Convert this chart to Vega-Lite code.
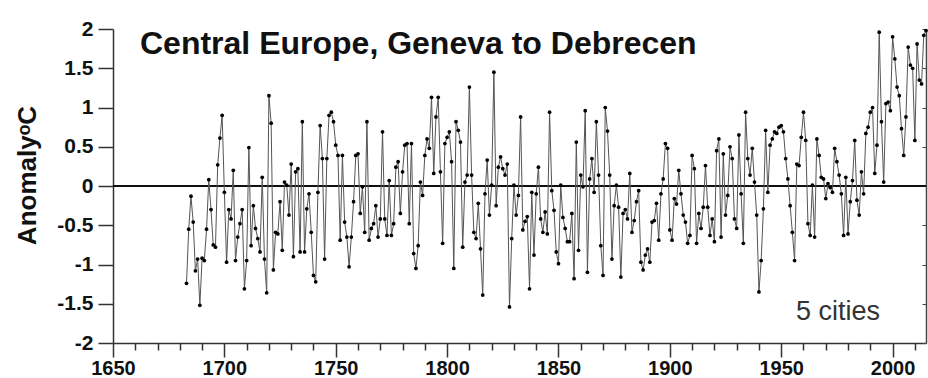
{
 "$schema": "https://vega.github.io/schema/vega-lite/v6.json",
 "width": 813,
 "height": 314,
 "autosize": "none",
 "padding": {"left": 113, "top": 29, "right": 2, "bottom": 35},
 "background": "white",
 "title": {"text": "Central Europe, Geneva to Debrecen", "anchor": "start", "frame": "group", "offset": 0, "dx": 27, "dy": 68, "baseline": "alphabetic", "font": "Liberation Sans", "fontSize": 32, "fontWeight": "bold", "color": "#111"},
 "config": {"view": {"stroke": null}, "axis": {"grid": false}},
 "data": {"values": [
  {"year":1683,"anomaly":-1.24},{"year":1684,"anomaly":-0.55},{"year":1685,"anomaly":-0.13},{"year":1686,"anomaly":-0.46},{"year":1687,"anomaly":-1.08},{"year":1688,"anomaly":-0.93},{"year":1689,"anomaly":-1.52},{"year":1690,"anomaly":-0.92},{"year":1691,"anomaly":-0.95},{"year":1692,"anomaly":-0.55},
  {"year":1693,"anomaly":0.08},{"year":1694,"anomaly":-0.30},{"year":1695,"anomaly":-0.75},{"year":1696,"anomaly":-0.78},{"year":1697,"anomaly":0.27},{"year":1698,"anomaly":0.61},{"year":1699,"anomaly":0.90},{"year":1700,"anomaly":-0.08},{"year":1701,"anomaly":-0.97},{"year":1702,"anomaly":-0.30},
  {"year":1703,"anomaly":-0.42},{"year":1704,"anomaly":0.20},{"year":1705,"anomaly":-0.95},{"year":1706,"anomaly":-0.65},{"year":1707,"anomaly":-0.48},{"year":1708,"anomaly":-0.30},{"year":1709,"anomaly":-1.31},{"year":1710,"anomaly":-0.95},{"year":1711,"anomaly":0.49},{"year":1712,"anomaly":-0.76},
  {"year":1713,"anomaly":-0.25},{"year":1714,"anomaly":-0.54},{"year":1715,"anomaly":-0.67},{"year":1716,"anomaly":-0.84},{"year":1717,"anomaly":0.11},{"year":1718,"anomaly":-0.93},{"year":1719,"anomaly":-1.36},{"year":1720,"anomaly":1.15},{"year":1721,"anomaly":0.80},{"year":1722,"anomaly":-1.07},
  {"year":1723,"anomaly":-0.59},{"year":1724,"anomaly":-0.61},{"year":1725,"anomaly":-0.20},{"year":1726,"anomaly":-0.82},{"year":1727,"anomaly":0.05},{"year":1728,"anomaly":0.01},{"year":1729,"anomaly":-0.37},{"year":1730,"anomaly":0.28},{"year":1731,"anomaly":-0.90},{"year":1732,"anomaly":0.18},
  {"year":1733,"anomaly":0.22},{"year":1734,"anomaly":-0.84},{"year":1735,"anomaly":0.82},{"year":1736,"anomaly":-0.84},{"year":1737,"anomaly":-0.29},{"year":1738,"anomaly":-0.10},{"year":1739,"anomaly":-0.59},{"year":1740,"anomaly":-1.14},{"year":1741,"anomaly":-1.22},{"year":1742,"anomaly":-0.08},
  {"year":1743,"anomaly":0.77},{"year":1744,"anomaly":0.35},{"year":1745,"anomaly":-0.93},{"year":1746,"anomaly":0.35},{"year":1747,"anomaly":0.90},{"year":1748,"anomaly":0.94},{"year":1749,"anomaly":0.82},{"year":1750,"anomaly":0.52},{"year":1751,"anomaly":0.39},{"year":1752,"anomaly":-0.69},
  {"year":1753,"anomaly":0.39},{"year":1754,"anomaly":-0.46},{"year":1755,"anomaly":-0.65},{"year":1756,"anomaly":-1.03},{"year":1757,"anomaly":-0.65},{"year":1758,"anomaly":-0.20},{"year":1759,"anomaly":0.39},{"year":1760,"anomaly":0.41},{"year":1761,"anomaly":-0.35},{"year":1762,"anomaly":-0.01},
  {"year":1763,"anomaly":-0.59},{"year":1764,"anomaly":0.82},{"year":1765,"anomaly":-0.69},{"year":1766,"anomaly":-0.54},{"year":1767,"anomaly":-0.48},{"year":1768,"anomaly":-0.25},{"year":1769,"anomaly":-0.65},{"year":1770,"anomaly":-0.42},{"year":1771,"anomaly":0.69},{"year":1772,"anomaly":-0.42},
  {"year":1773,"anomaly":-0.63},{"year":1774,"anomaly":0.07},{"year":1775,"anomaly":-0.63},{"year":1776,"anomaly":-0.48},{"year":1777,"anomaly":0.24},{"year":1778,"anomaly":0.31},{"year":1779,"anomaly":-0.35},{"year":1780,"anomaly":0.18},{"year":1781,"anomaly":0.52},{"year":1782,"anomaly":0.54},
  {"year":1783,"anomaly":-0.48},{"year":1784,"anomaly":0.54},{"year":1785,"anomaly":-0.86},{"year":1786,"anomaly":-1.05},{"year":1787,"anomaly":-0.76},{"year":1788,"anomaly":0.05},{"year":1789,"anomaly":-0.12},{"year":1790,"anomaly":0.39},{"year":1791,"anomaly":0.60},{"year":1792,"anomaly":0.48},
  {"year":1793,"anomaly":1.13},{"year":1794,"anomaly":0.16},{"year":1795,"anomaly":0.88},{"year":1796,"anomaly":1.13},{"year":1797,"anomaly":0.18},{"year":1798,"anomaly":-0.73},{"year":1799,"anomaly":0.54},{"year":1800,"anomaly":0.62},{"year":1801,"anomaly":0.69},{"year":1802,"anomaly":0.31},
  {"year":1803,"anomaly":-1.05},{"year":1804,"anomaly":0.82},{"year":1805,"anomaly":0.71},{"year":1806,"anomaly":0.56},{"year":1807,"anomaly":-0.78},{"year":1808,"anomaly":0.05},{"year":1809,"anomaly":0.14},{"year":1810,"anomaly":1.26},{"year":1811,"anomaly":0.14},{"year":1812,"anomaly":-0.59},
  {"year":1813,"anomaly":-0.67},{"year":1814,"anomaly":-0.22},{"year":1815,"anomaly":-0.80},{"year":1816,"anomaly":-1.39},{"year":1817,"anomaly":-0.10},{"year":1818,"anomaly":0.33},{"year":1819,"anomaly":-0.37},{"year":1820,"anomaly":0.01},{"year":1821,"anomaly":1.45},{"year":1822,"anomaly":-0.25},
  {"year":1823,"anomaly":0.24},{"year":1824,"anomaly":0.37},{"year":1825,"anomaly":0.22},{"year":1826,"anomaly":0.14},{"year":1827,"anomaly":0.28},{"year":1828,"anomaly":-1.54},{"year":1829,"anomaly":-0.67},{"year":1830,"anomaly":0.01},{"year":1831,"anomaly":-0.37},{"year":1832,"anomaly":-0.12},
  {"year":1833,"anomaly":0.88},{"year":1834,"anomaly":-0.56},{"year":1835,"anomaly":-0.45},{"year":1836,"anomaly":-0.39},{"year":1837,"anomaly":-1.31},{"year":1838,"anomaly":-0.08},{"year":1839,"anomaly":-0.88},{"year":1840,"anomaly":-0.10},{"year":1841,"anomaly":0.24},{"year":1842,"anomaly":-0.42},
  {"year":1843,"anomaly":-0.59},{"year":1844,"anomaly":-0.33},{"year":1845,"anomaly":-0.61},{"year":1846,"anomaly":0.94},{"year":1847,"anomaly":-0.06},{"year":1848,"anomaly":-0.31},{"year":1849,"anomaly":-0.84},{"year":1850,"anomaly":-0.99},{"year":1851,"anomaly":0.01},{"year":1852,"anomaly":-0.40},
  {"year":1853,"anomaly":-0.54},{"year":1854,"anomaly":-0.71},{"year":1855,"anomaly":-0.71},{"year":1856,"anomaly":-0.35},{"year":1857,"anomaly":-1.18},{"year":1858,"anomaly":0.56},{"year":1859,"anomaly":-0.82},{"year":1860,"anomaly":0.14},{"year":1861,"anomaly":-0.01},{"year":1862,"anomaly":0.96},
  {"year":1863,"anomaly":-1.10},{"year":1864,"anomaly":0.09},{"year":1865,"anomaly":0.35},{"year":1866,"anomaly":-0.08},{"year":1867,"anomaly":0.82},{"year":1868,"anomaly":0.14},{"year":1869,"anomaly":-0.76},{"year":1870,"anomaly":-1.14},{"year":1871,"anomaly":1.00},{"year":1872,"anomaly":0.70},
  {"year":1873,"anomaly":0.14},{"year":1874,"anomaly":-0.93},{"year":1875,"anomaly":-0.25},{"year":1876,"anomaly":0.01},{"year":1877,"anomaly":-0.27},{"year":1878,"anomaly":-1.16},{"year":1879,"anomaly":-0.35},{"year":1880,"anomaly":-0.30},{"year":1881,"anomaly":-0.42},{"year":1882,"anomaly":0.16},
  {"year":1883,"anomaly":-0.59},{"year":1884,"anomaly":-0.44},{"year":1885,"anomaly":-0.20},{"year":1886,"anomaly":-0.06},{"year":1887,"anomaly":-0.97},{"year":1888,"anomaly":-1.07},{"year":1889,"anomaly":-0.88},{"year":1890,"anomaly":-0.80},{"year":1891,"anomaly":-0.97},{"year":1892,"anomaly":-0.46},
  {"year":1893,"anomaly":-0.44},{"year":1894,"anomaly":-0.22},{"year":1895,"anomaly":-0.69},{"year":1896,"anomaly":-0.10},{"year":1897,"anomaly":0.09},{"year":1898,"anomaly":0.54},{"year":1899,"anomaly":0.48},{"year":1900,"anomaly":-0.56},{"year":1901,"anomaly":-0.69},{"year":1902,"anomaly":-0.16},
  {"year":1903,"anomaly":-0.23},{"year":1904,"anomaly":0.20},{"year":1905,"anomaly":-0.10},{"year":1906,"anomaly":-0.37},{"year":1907,"anomaly":-0.46},{"year":1908,"anomaly":-0.73},{"year":1909,"anomaly":-0.63},{"year":1910,"anomaly":0.39},{"year":1911,"anomaly":0.22},{"year":1912,"anomaly":-0.73},
  {"year":1913,"anomaly":-0.35},{"year":1914,"anomaly":-0.54},{"year":1915,"anomaly":-0.27},{"year":1916,"anomaly":0.26},{"year":1917,"anomaly":-0.27},{"year":1918,"anomaly":-0.63},{"year":1919,"anomaly":-0.42},{"year":1920,"anomaly":-0.71},{"year":1921,"anomaly":0.45},{"year":1922,"anomaly":0.60},
  {"year":1923,"anomaly":-0.65},{"year":1924,"anomaly":0.41},{"year":1925,"anomaly":-0.37},{"year":1926,"anomaly":-0.12},{"year":1927,"anomaly":0.50},{"year":1928,"anomaly":0.35},{"year":1929,"anomaly":-0.42},{"year":1930,"anomaly":-0.54},{"year":1931,"anomaly":0.65},{"year":1932,"anomaly":-0.10},
  {"year":1933,"anomaly":-0.73},{"year":1934,"anomaly":0.94},{"year":1935,"anomaly":0.35},{"year":1936,"anomaly":0.14},{"year":1937,"anomaly":0.48},{"year":1938,"anomaly":0.05},{"year":1939,"anomaly":-0.37},{"year":1940,"anomaly":-1.35},{"year":1941,"anomaly":-0.95},{"year":1942,"anomaly":-0.29},
  {"year":1943,"anomaly":0.71},{"year":1944,"anomaly":-0.08},{"year":1945,"anomaly":0.52},{"year":1946,"anomaly":0.60},{"year":1947,"anomaly":0.69},{"year":1948,"anomaly":0.67},{"year":1949,"anomaly":0.75},{"year":1950,"anomaly":0.77},{"year":1951,"anomaly":0.69},{"year":1952,"anomaly":0.35},
  {"year":1953,"anomaly":0.09},{"year":1954,"anomaly":-0.25},{"year":1955,"anomaly":-0.59},{"year":1956,"anomaly":-0.95},{"year":1957,"anomaly":0.28},{"year":1958,"anomaly":0.26},{"year":1959,"anomaly":0.62},{"year":1960,"anomaly":0.94},{"year":1961,"anomaly":0.58},{"year":1962,"anomaly":-0.48},
  {"year":1963,"anomaly":-0.63},{"year":1964,"anomaly":0.01},{"year":1965,"anomaly":-0.65},{"year":1966,"anomaly":0.60},{"year":1967,"anomaly":0.39},{"year":1968,"anomaly":0.11},{"year":1969,"anomaly":0.09},{"year":1970,"anomaly":-0.16},{"year":1971,"anomaly":0.03},{"year":1972,"anomaly":-0.02},
  {"year":1973,"anomaly":-0.08},{"year":1974,"anomaly":0.48},{"year":1975,"anomaly":0.31},{"year":1976,"anomaly":0.14},{"year":1977,"anomaly":-0.10},{"year":1978,"anomaly":-0.63},{"year":1979,"anomaly":0.11},{"year":1980,"anomaly":-0.61},{"year":1981,"anomaly":-0.20},{"year":1982,"anomaly":0.07},
  {"year":1983,"anomaly":0.58},{"year":1984,"anomaly":-0.18},{"year":1985,"anomaly":-0.37},{"year":1986,"anomaly":0.18},{"year":1987,"anomaly":-0.10},{"year":1988,"anomaly":0.67},{"year":1989,"anomaly":0.75},{"year":1990,"anomaly":0.94},{"year":1991,"anomaly":1.00},{"year":1992,"anomaly":0.16},
  {"year":1993,"anomaly":0.52},{"year":1994,"anomaly":1.96},{"year":1995,"anomaly":0.82},{"year":1996,"anomaly":0.05},{"year":1997,"anomaly":1.05},{"year":1998,"anomaly":1.07},{"year":1999,"anomaly":0.96},{"year":2000,"anomaly":1.90},{"year":2001,"anomaly":1.62},{"year":2002,"anomaly":1.26},
  {"year":2003,"anomaly":1.15},{"year":2004,"anomaly":0.73},{"year":2005,"anomaly":0.39},{"year":2006,"anomaly":0.88},{"year":2007,"anomaly":1.77},{"year":2008,"anomaly":1.54},{"year":2009,"anomaly":1.50},{"year":2010,"anomaly":0.58},{"year":2011,"anomaly":1.81},{"year":2012,"anomaly":1.35},
  {"year":2013,"anomaly":1.30},{"year":2014,"anomaly":1.92},{"year":2015,"anomaly":1.98}
 ]},
 "layer": [
  {
   "mark": {"type": "rule", "color": "#111", "strokeWidth": 1.5},
   "encoding": {
    "y": {"datum": 0, "type": "quantitative", "scale": {"domain": [-2, 2], "nice": false},
     "axis": {"orient": "right", "values": [-2, -1.5, -1, -0.5, 0, 0.5, 1, 1.5, 2], "labels": false, "tickSize": -4, "tickColor": "#444", "domainColor": "#444", "domainWidth": 1.5, "title": null}}
   }
  },
  {
   "mark": {"type": "line", "color": "#555", "strokeWidth": 1},
   "encoding": {
    "x": {"field": "year", "type": "quantitative", "scale": {"domain": [1650, 2015], "nice": false, "zero": false},
     "axis": {"orient": "bottom", "values": [1650, 1700, 1750, 1800, 1850, 1900, 1950, 2000],
      "labelExpr": "'' + datum.value",
      "tickSize": 14,
      "labelPadding": 1, "labelFont": "Liberation Sans", "labelFontSize": 20, "labelFontWeight": "bold", "labelColor": "#111",
      "labelOverlap": false, "labelFlush": false, "labelBound": false,
      "domainColor": "#333", "domainWidth": 1.5, "tickColor": "#333", "tickWidth": 1.5, "title": null}},
    "y": {"field": "anomaly", "type": "quantitative", "scale": {"domain": [-2, 2], "nice": false},
     "axis": {"values": [-2, -1.5, -1, -0.5, 0, 0.5, 1, 1.5, 2], "labelExpr": "'' + datum.value",
      "tickSize": 15, "labelPadding": 5, "labelFont": "Liberation Sans", "labelFontSize": 21, "labelFontWeight": "bold", "labelColor": "#111",
      "labelOverlap": false, "labelBound": false, "labelFlush": false,
      "domainColor": "#333", "domainWidth": 1.5, "tickColor": "#333", "tickWidth": 1.5,
      "title": "AnomalyᵒC", "titleFont": "Liberation Sans", "titleFontSize": 26, "titleFontWeight": "bold", "titleColor": "#111",
      "titleX": -78, "titleY": 146, "titleBaseline": "alphabetic", "titleAlign": "center", "titleAngle": 270}}
   }
  },
  {
   "mark": {"type": "point", "filled": true, "color": "#000", "size": 14, "opacity": 1},
   "encoding": {
    "x": {"field": "year", "type": "quantitative",
     "axis": {"orient": "bottom", "values": [1660,1670,1680,1690,1710,1720,1730,1740,1760,1770,1780,1790,1810,1820,1830,1840,1860,1870,1880,1890,1910,1920,1930,1940,1960,1970,1980,1990,2010],
      "labels": false, "tickSize": 7, "tickColor": "#333", "tickWidth": 1.5, "domain": false, "title": null}},
    "y": {"field": "anomaly", "type": "quantitative", "axis": null}
   }
  },
  {
   "data": {"values": [{"x": 1975.5, "y": -1.61, "label": "5 cities"}]},
   "mark": {"type": "text", "font": "Liberation Sans", "fontSize": 27, "color": "#333", "align": "center", "baseline": "middle"},
   "encoding": {
    "x": {"field": "x", "type": "quantitative", "axis": null},
    "y": {"field": "y", "type": "quantitative", "axis": null},
    "text": {"field": "label"}
   }
  }
 ],
 "resolve": {"axis": {"x": "independent", "y": "independent"}}
}
